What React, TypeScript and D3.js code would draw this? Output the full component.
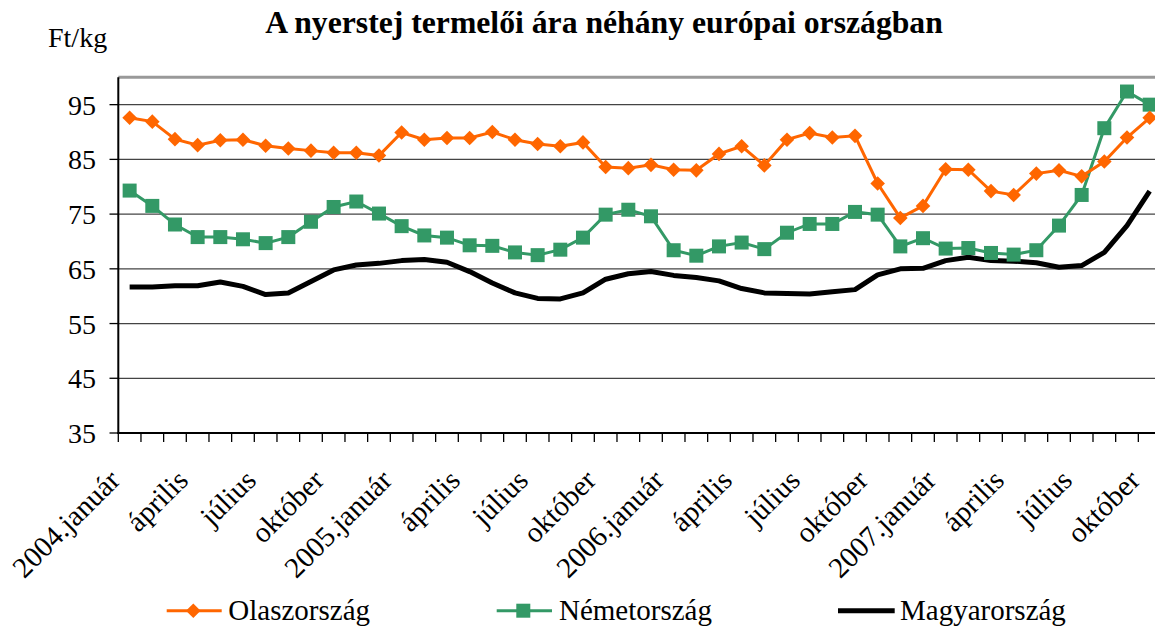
import React from 'react';
import * as d3 from 'd3';

// monthly producer prices, 2004 Jan - 2007 Oct (Ft/kg)
const olasz = [92.6, 91.9, 88.7, 87.6, 88.5, 88.6, 87.5, 87.0, 86.6, 86.2, 86.2, 85.7,
  89.9, 88.6, 88.9, 88.9, 90.0, 88.6, 87.8, 87.4, 88.1, 83.6, 83.4, 84.0,
  83.1, 83.0, 86.0, 87.4, 83.9, 88.6, 89.8, 89.0, 89.3, 80.6, 74.3, 76.5,
  83.2, 83.1, 79.2, 78.5, 82.4, 83.0, 81.9, 84.6, 89.0, 92.6];
const nemet = [79.3, 76.5, 73.1, 70.8, 70.8, 70.4, 69.7, 70.8, 73.6, 76.3, 77.3, 75.1,
  72.8, 71.1, 70.7, 69.3, 69.2, 68.0, 67.5, 68.5, 70.7, 74.9, 75.8, 74.6,
  68.4, 67.4, 69.1, 69.8, 68.6, 71.6, 73.2, 73.2, 75.4, 74.9, 69.1, 70.6,
  68.7, 68.8, 67.9, 67.6, 68.4, 72.9, 78.5, 90.7, 97.4, 95.0];
const magyar = [61.7, 61.7, 61.9, 61.9, 62.6, 61.8, 60.3, 60.6, 62.7, 64.8, 65.7, 66.0,
  66.5, 66.7, 66.2, 64.5, 62.4, 60.6, 59.6, 59.5, 60.6, 63.1, 64.1, 64.5,
  63.8, 63.4, 62.8, 61.4, 60.6, 60.5, 60.4, 60.8, 61.2, 63.9, 65.0, 65.1,
  66.5, 67.1, 66.5, 66.4, 66.1, 65.3, 65.6, 68.0, 72.9, 79.2];

const years = ['2004', '2005', '2006', '2007'];
const quarterMonths = ['január', 'április', 'július', 'október'];
const yTicks = [35, 45, 55, 65, 75, 85, 95];

const ORANGE = '#FF6600';
const GREEN = '#339966';
const FONT = "'Liberation Serif', 'Times New Roman', Times, 'DejaVu Serif', 'Noto Serif', serif";

const months = d3.range(olasz.length);
const labelFor = (i: number) => {
  if (i % 3 !== 0) return null;
  const q = (i % 12) / 3;
  return q === 0 ? `${years[Math.floor(i / 12)]}.${quarterMonths[0]}` : quarterMonths[q];
};

export default function App() {
  const width = 1155;
  const height = 630;

  const x = d3.scaleBand<number>().domain(months).range([118.3, 1161]).paddingInner(0).paddingOuter(0);
  const y = d3.scaleLinear().domain([35, 100]).range([433, 77.3]);
  const cx = (i: number) => (x(i) as number) + x.bandwidth() / 2;

  const line = d3.line<number>().x((_, i) => cx(i)).y(d => y(d));
  const diamond = (s: number) => `M0,${-s}L${s},0L0,${s}L${-s},0Z`;

  return (
    <div style={{ position: 'absolute', left: 0, top: 0 }}>
      <svg width={width} height={height} style={{ display: 'block', background: '#fff', fontFamily: FONT }}>
        <text x={604} y={33} textAnchor="middle" fontWeight="bold" fontSize={31.7}>
          A nyerstej termelői ára néhány európai országban
        </text>
        <text x={48} y={47} fontSize={28}>Ft/kg</text>

        {/* plot top border */}
        <line x1={118.3} x2={1161} y1={y(100)} y2={y(100)} stroke="#999" strokeWidth={3} />
        {/* gridlines */}
        {yTicks.map(t => (
          <g key={t}>
            {t > 35 && <line x1={118.3} x2={1161} y1={y(t)} y2={y(t)} stroke="#444" strokeWidth={1.3} />}
            <line x1={109.5} x2={118.3} y1={y(t)} y2={y(t)} stroke="#000" strokeWidth={1.3} />
            <text x={96} y={y(t) + 10} textAnchor="end" fontSize={28}>{t}</text>
          </g>
        ))}

        {/* axes */}
        <line x1={118.3} x2={118.3} y1={y(100)} y2={y(35) + 1} stroke="#000" strokeWidth={2} />
        <line x1={117.3} x2={1161} y1={y(35)} y2={y(35)} stroke="#000" strokeWidth={2} />
        {d3.range(months.length + 1).map(i => {
          const xx = 118.3 + i * x.bandwidth();
          return <line key={i} x1={xx} x2={xx} y1={y(35)} y2={y(35) + 9} stroke="#000" strokeWidth={1.3} />;
        })}
        {months.map(i => {
          const lab = labelFor(i);
          if (!lab) return null;
          const tx = cx(i) - 8;
          const ty = 482;
          return (
            <text key={i} x={tx} y={ty} textAnchor="end" fontSize={29}
              transform={`rotate(-45, ${tx}, ${ty})`}>{lab}</text>
          );
        })}

        {/* series */}
        <path d={line(magyar) || ''} fill="none" stroke="#000" strokeWidth={5} strokeLinejoin="round" />
        <path d={line(nemet) || ''} fill="none" stroke={GREEN} strokeWidth={3} />
        {nemet.map((v, i) => (
          <rect key={i} x={cx(i) - 7} y={y(v) - 7} width={14} height={14} fill={GREEN} />
        ))}
        <path d={line(olasz) || ''} fill="none" stroke={ORANGE} strokeWidth={3} />
        {olasz.map((v, i) => (
          <path key={i} d={diamond(7.3)} transform={`translate(${cx(i)},${y(v)})`} fill={ORANGE} />
        ))}

        {/* legend */}
        <g>
          <line x1={166.7} x2={221.7} y1={610.7} y2={610.7} stroke={ORANGE} strokeWidth={3} />
          <path d={diamond(7.3)} transform="translate(193.3,610.7)" fill={ORANGE} />
          <text x={228.3} y={620} fontSize={29}>Olaszország</text>

          <line x1={496.7} x2={552} y1={610.7} y2={610.7} stroke={GREEN} strokeWidth={3} />
          <rect x={523.3 - 7} y={610.7 - 7} width={14} height={14} fill={GREEN} />
          <text x={559} y={620} fontSize={29}>Németország</text>

          <line x1={838} x2={894.7} y1={610.7} y2={610.7} stroke="#000" strokeWidth={5} />
          <text x={900} y={620} fontSize={29}>Magyarország</text>
        </g>
      </svg>
    </div>
  );
}
